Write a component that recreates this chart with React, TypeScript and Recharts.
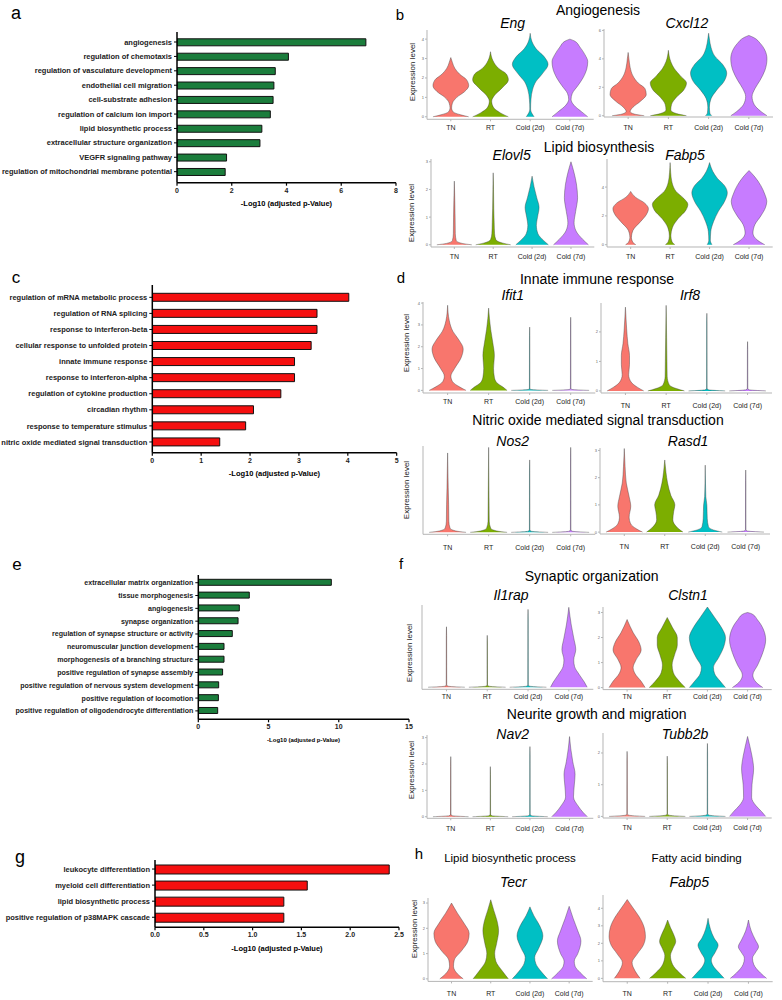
import React from 'react';
import { BarChart, Bar, XAxis, YAxis, ComposedChart, Area } from 'recharts';

const FONT = '"Liberation Sans", Arial, Helvetica, sans-serif';

// ---------- GO bar charts ----------
const termsA = ['angiogenesis', 'regulation of chemotaxis', 'regulation of vasculature development', 'endothelial cell migration', 'cell-substrate adhesion', 'regulation of calcium ion import', 'lipid biosynthetic process', 'extracellular structure organization', 'VEGFR signaling pathway', 'regulation of mitochondrial membrane potential'];
const valuesA = [6.9, 4.07, 3.59, 3.54, 3.51, 3.41, 3.1, 3.03, 1.81, 1.76];
const ticksA = [0, 2, 4, 6, 8];

const termsC = ['regulation of mRNA metabolic process', 'regulation of RNA splicing', 'response to interferon-beta', 'cellular response to unfolded protein', 'innate immune response', 'response to interferon-alpha', 'regulation of cytokine production', 'circadian rhythm', 'response to temperature stimulus', 'nitric oxide mediated signal transduction'];
const valuesC = [4.02, 3.37, 3.37, 3.25, 2.91, 2.91, 2.63, 2.07, 1.91, 1.38];
const ticksC = [0, 1, 2, 3, 4, 5];

const termsE = ['extracellular matrix organization', 'tissue morphogenesis', 'angiogenesis', 'synapse organization', 'regulation of synapse structure or activity', 'neuromuscular junction development', 'morphogenesis of a branching structure', 'positive regulation of synapse assembly', 'positive regulation of nervous system development', 'positive regulation of locomotion', 'positive regulation of oligodendrocyte differentiation'];
const valuesE = [9.47, 3.63, 2.92, 2.83, 2.42, 1.83, 1.83, 1.73, 1.45, 1.43, 1.38];
const ticksE = [0, 5, 10, 15];

const termsG = ['leukocyte differentiation', 'myeloid cell differentiation', 'lipid biosynthetic process', 'positive regulation of p38MAPK cascade'];
const valuesG = [2.4, 1.56, 1.32, 1.32];
const ticksG = [0, 0.5, 1, 1.5, 2, 2.5];

// ---------- violin profiles: [expression level, half width] ----------
const groups = ['TN', 'RT', 'Cold (2d)', 'Cold (7d)'];
const groupColors = ['#F8766D', '#7CAE00', '#00BFC4', '#C77CFF'];

const engProfiles = [
  [[0, 0.45], [0.1, 0.25], [0.25, 0.06], [0.45, 0.02], [0.7, 0.04], [1.0, 0.15], [1.3, 0.35], [1.6, 0.45], [1.9, 0.4], [2.2, 0.22], [2.5, 0.1], [2.8, 0.04], [3.05, 0]],
  [[0, 0.45], [0.2, 0.25], [0.5, 0.07], [0.8, 0.03], [1.1, 0.1], [1.5, 0.3], [1.9, 0.45], [2.2, 0.4], [2.5, 0.2], [2.9, 0.06], [3.35, 0]],
  [[0, 0.1], [0.15, 0.05], [0.4, 0.01], [0.9, 0.02], [1.4, 0.06], [1.8, 0.14], [2.2, 0.3], [2.7, 0.45], [3.1, 0.35], [3.5, 0.15], [3.9, 0.04], [4.3, 0]],
  [[0, 0.45], [0.25, 0.3], [0.6, 0.1], [0.9, 0.03], [1.2, 0.06], [1.6, 0.2], [2.0, 0.33], [2.5, 0.43], [2.85, 0.45], [3.2, 0.38], [3.6, 0.25], [3.9, 0.12], [4.0, 0]],
];
const cxcl12Profiles = [
  [[0, 0.4], [0.12, 0.15], [0.3, 0.05], [0.6, 0.12], [1.0, 0.3], [1.5, 0.45], [1.9, 0.42], [2.3, 0.25], [2.8, 0.12], [3.4, 0.05], [4.0, 0.02], [4.45, 0]],
  [[0, 0.45], [0.15, 0.2], [0.4, 0.06], [0.8, 0.08], [1.3, 0.2], [1.8, 0.38], [2.3, 0.45], [2.8, 0.3], [3.3, 0.15], [3.8, 0.06], [4.6, 0]],
  [[0, 0.08], [0.2, 0.03], [0.6, 0.02], [1.2, 0.06], [1.8, 0.2], [2.4, 0.38], [3.0, 0.45], [3.6, 0.35], [4.2, 0.15], [4.8, 0.06], [5.4, 0.02], [5.8, 0]],
  [[0, 0.45], [0.3, 0.3], [0.8, 0.13], [1.35, 0.08], [1.9, 0.15], [2.5, 0.28], [3.2, 0.4], [4.0, 0.45], [4.6, 0.4], [5.1, 0.28], [5.5, 0.12], [5.65, 0]],
];
const elovl5Profiles = [
  [[0, 0.45], [0.05, 0.2], [0.15, 0.05], [0.4, 0.025], [1.0, 0.02], [1.6, 0.012], [2.3, 0]],
  [[0, 0.45], [0.06, 0.25], [0.18, 0.07], [0.4, 0.035], [0.8, 0.025], [1.3, 0.015], [2.0, 0.008], [2.6, 0]],
  [[0, 0.42], [0.15, 0.3], [0.4, 0.15], [0.7, 0.11], [1.0, 0.14], [1.35, 0.18], [1.7, 0.12], [2.1, 0.05], [2.48, 0]],
  [[0, 0.45], [0.2, 0.3], [0.5, 0.13], [0.8, 0.08], [1.2, 0.12], [1.7, 0.17], [2.2, 0.14], [2.6, 0.08], [3.0, 0]],
];
const fabp5bProfiles = [
  [[0, 0.13], [0.15, 0.06], [0.5, 0.02], [1.0, 0.06], [1.6, 0.25], [2.1, 0.4], [2.5, 0.45], [2.9, 0.35], [3.3, 0.12], [3.7, 0]],
  [[0, 0.12], [0.2, 0.05], [0.6, 0.02], [1.2, 0.06], [1.8, 0.2], [2.4, 0.4], [2.8, 0.45], [3.2, 0.35], [3.7, 0.15], [4.3, 0.05], [5.0, 0.015], [5.7, 0]],
  [[0, 0.06], [0.3, 0.02], [0.9, 0.03], [1.6, 0.1], [2.3, 0.22], [3.0, 0.38], [3.6, 0.45], [4.1, 0.38], [4.6, 0.2], [5.1, 0.08], [5.7, 0]],
  [[0, 0.4], [0.3, 0.22], [0.8, 0.1], [1.4, 0.15], [2.0, 0.3], [2.6, 0.42], [3.0, 0.45], [3.5, 0.4], [4.1, 0.3], [4.7, 0.15], [5.15, 0]],
];
const ifit1Profiles = [
  [[0, 0.45], [0.15, 0.3], [0.4, 0.12], [0.65, 0.08], [1.0, 0.17], [1.5, 0.33], [1.9, 0.38], [2.3, 0.28], [2.7, 0.13], [3.2, 0.04], [3.9, 0]],
  [[0, 0.45], [0.15, 0.35], [0.35, 0.2], [0.6, 0.14], [1.0, 0.12], [1.6, 0.14], [2.2, 0.1], [2.8, 0.05], [3.3, 0.02], [3.77, 0]],
  [[0, 0.45], [0.04, 0.04], [0.08, 0.006], [2.5, 0.004], [2.9, 0]],
  [[0, 0.45], [0.04, 0.04], [0.08, 0.006], [3.0, 0.004], [3.35, 0]],
];
const irf8Profiles = [
  [[0, 0.45], [0.12, 0.3], [0.3, 0.14], [0.55, 0.08], [0.9, 0.1], [1.2, 0.1], [1.6, 0.06], [2.1, 0.03], [2.84, 0]],
  [[0, 0.45], [0.08, 0.25], [0.2, 0.08], [0.5, 0.025], [1.0, 0.02], [1.8, 0.012], [2.9, 0]],
  [[0, 0.45], [0.04, 0.04], [0.08, 0.006], [2.3, 0.004], [2.63, 0]],
  [[0, 0.45], [0.04, 0.04], [0.08, 0.006], [1.4, 0.004], [1.67, 0]],
];
const nos2Profiles = [
  [[0, 0.45], [0.05, 0.2], [0.15, 0.06], [0.4, 0.03], [1.0, 0.025], [1.6, 0.015], [2.85, 0]],
  [[0, 0.45], [0.05, 0.2], [0.15, 0.05], [0.4, 0.015], [1.2, 0.01], [3.05, 0]],
  [[0, 0.45], [0.04, 0.04], [0.08, 0.006], [2.2, 0.004], [2.6, 0]],
  [[0, 0.45], [0.04, 0.04], [0.08, 0.006], [2.7, 0.004], [3.05, 0]],
];
const rasd1Profiles = [
  [[0, 0.45], [0.12, 0.3], [0.3, 0.16], [0.55, 0.12], [0.95, 0.16], [1.3, 0.12], [1.8, 0.05], [2.4, 0.02], [3.07, 0]],
  [[0, 0.45], [0.15, 0.32], [0.45, 0.2], [0.75, 0.22], [1.0, 0.25], [1.35, 0.15], [1.8, 0.07], [2.2, 0.03], [2.65, 0]],
  [[0, 0.42], [0.08, 0.2], [0.2, 0.08], [0.5, 0.05], [1.0, 0.04], [1.3, 0.015], [1.8, 0.006], [2.46, 0]],
  [[0, 0.45], [0.04, 0.04], [0.08, 0.006], [1.9, 0.004], [2.28, 0]],
];
const il1rapProfiles = [
  [[0, 0.45], [0.04, 0.04], [0.08, 0.006], [2.0, 0.004], [2.33, 0]],
  [[0, 0.45], [0.04, 0.04], [0.08, 0.006], [1.7, 0.004], [2.0, 0]],
  [[0, 0.45], [0.04, 0.04], [0.08, 0.006], [2.6, 0.004], [3.0, 0]],
  [[0, 0.45], [0.2, 0.38], [0.5, 0.25], [0.8, 0.14], [1.05, 0.12], [1.45, 0.17], [1.9, 0.12], [2.4, 0.06], [3.08, 0]],
];
const clstn1Profiles = [
  [[0, 0.45], [0.25, 0.35], [0.55, 0.2], [0.8, 0.15], [1.1, 0.22], [1.5, 0.35], [1.8, 0.3], [2.2, 0.15], [2.72, 0]],
  [[0, 0.45], [0.25, 0.3], [0.6, 0.15], [0.9, 0.12], [1.3, 0.18], [1.7, 0.25], [2.0, 0.25], [2.4, 0.13], [2.8, 0]],
  [[0, 0.45], [0.25, 0.32], [0.55, 0.18], [0.8, 0.15], [1.2, 0.28], [1.6, 0.4], [2.0, 0.45], [2.4, 0.35], [2.8, 0.18], [3.22, 0]],
  [[0, 0.38], [0.2, 0.22], [0.5, 0.13], [0.9, 0.25], [1.4, 0.38], [1.9, 0.45], [2.3, 0.4], [2.7, 0.25], [2.95, 0.1], [3.0, 0]],
];
const nav2Profiles = [
  [[0, 0.45], [0.04, 0.04], [0.08, 0.006], [1.9, 0.004], [2.28, 0]],
  [[0, 0.45], [0.04, 0.04], [0.08, 0.006], [1.6, 0.004], [1.9, 0]],
  [[0, 0.45], [0.04, 0.04], [0.08, 0.006], [2.3, 0.004], [2.66, 0]],
  [[0, 0.45], [0.15, 0.35], [0.4, 0.22], [0.75, 0.1], [1.2, 0.12], [1.6, 0.14], [2.1, 0.08], [2.6, 0.03], [3.04, 0]],
];
const tubb2bProfiles = [
  [[0, 0.45], [0.04, 0.04], [0.08, 0.006], [1.75, 0.004], [2.05, 0]],
  [[0, 0.45], [0.04, 0.04], [0.08, 0.006], [1.6, 0.004], [1.9, 0]],
  [[0, 0.45], [0.04, 0.04], [0.08, 0.006], [2.0, 0.004], [2.3, 0]],
  [[0, 0.45], [0.15, 0.35], [0.35, 0.2], [0.6, 0.1], [1.0, 0.11], [1.5, 0.15], [1.9, 0.11], [2.2, 0.06], [2.52, 0]],
];
const tecrProfiles = [
  [[0, 0.3], [0.2, 0.15], [0.5, 0.05], [0.75, 0.07], [1.1, 0.25], [1.5, 0.42], [1.8, 0.45], [2.2, 0.32], [2.6, 0.15], [3.0, 0]],
  [[0, 0.45], [0.3, 0.3], [0.7, 0.13], [1.0, 0.1], [1.4, 0.15], [1.9, 0.2], [2.3, 0.16], [2.7, 0.08], [3.13, 0]],
  [[0, 0.45], [0.3, 0.28], [0.6, 0.15], [0.85, 0.12], [1.2, 0.22], [1.7, 0.33], [2.1, 0.25], [2.5, 0.1], [2.85, 0]],
  [[0, 0.45], [0.25, 0.28], [0.5, 0.15], [0.7, 0.13], [1.0, 0.22], [1.5, 0.3], [1.9, 0.22], [2.4, 0.1], [2.87, 0]],
];
const fabp5hProfiles = [
  [[0, 0.32], [0.4, 0.2], [0.9, 0.12], [1.4, 0.25], [1.9, 0.4], [2.4, 0.45], [2.9, 0.42], [3.5, 0.3], [4.0, 0.15], [4.5, 0]],
  [[0, 0.45], [0.3, 0.3], [0.8, 0.12], [1.3, 0.07], [1.7, 0.13], [2.1, 0.2], [2.5, 0.15], [2.9, 0.07], [3.33, 0]],
  [[0, 0.4], [0.3, 0.28], [0.7, 0.13], [1.05, 0.08], [1.5, 0.18], [1.9, 0.25], [2.3, 0.15], [2.8, 0.06], [3.43, 0]],
  [[0, 0.45], [0.3, 0.3], [0.8, 0.13], [1.15, 0.1], [1.5, 0.18], [1.8, 0.25], [2.2, 0.17], [2.7, 0.07], [3.33, 0]],
];

// ---------- helpers ----------
function T({ x, y, s, children, bold, italic, anchor = 'middle', color = '#000' }: any) {
  const w = 500;
  const left = anchor === 'middle' ? x - w / 2 : anchor === 'start' ? x : x - w;
  const align = anchor === 'middle' ? 'center' : anchor === 'start' ? 'left' : 'right';
  return (
    <div style={{ position: 'absolute', left, top: y - s / 2, width: w, textAlign: align as any, fontSize: s, lineHeight: `${s}px`, fontWeight: bold ? 700 : 400, fontStyle: italic ? 'italic' : 'normal', color, whiteSpace: 'nowrap', fontFamily: FONT }}>
      {children}
    </div>
  );
}

function VText({ x, y, s, children }: any) {
  return (
    <div style={{ position: 'absolute', left: x - 60, top: y - s / 2, width: 120, textAlign: 'center', fontSize: s, lineHeight: `${s}px`, transform: 'rotate(-90deg)', transformOrigin: '50% 50%', color: '#222', whiteSpace: 'nowrap', fontFamily: FONT }}>
      {children}
    </div>
  );
}

function CatTick(props: any) {
  const { x, y, payload, size } = props;
  return (
    <text x={x} y={y} dy={size * 0.35} textAnchor="end" fontSize={size} fontWeight={700} fill="#222" fontFamily={FONT}>
      {payload.value}
    </text>
  );
}

function GoBars({ top, axisX, plotBottom, right, terms, values, color, ticks, labelSize, barSize, padTop, padBottom, tickFmt }: any) {
  const data = terms.map((term: string, i: number) => ({ term, v: values[i] }));
  const xH = 14;
  const mr = 10;
  const width = right + mr;
  const height = plotBottom - top + xH;
  return (
    <div style={{ position: 'absolute', left: 0, top }}>
      <BarChart width={width} height={height} data={data} layout="vertical" margin={{ top: 0, right: mr, bottom: 0, left: 0 }}>
        <XAxis type="number" domain={[ticks[0], ticks[ticks.length - 1]]} ticks={ticks} interval={0} allowDataOverflow height={xH} tickSize={3} tickMargin={2} tickFormatter={tickFmt} axisLine={{ stroke: '#000', strokeWidth: 1.5 }} tickLine={{ stroke: '#000', strokeWidth: 1.2 }} tick={{ fontSize: 7, fontWeight: 700, fill: '#222', fontFamily: FONT }} />
        <YAxis type="category" dataKey="term" width={axisX} interval={0} tickSize={3} tickMargin={2} padding={{ top: padTop, bottom: padBottom }} axisLine={{ stroke: '#000', strokeWidth: 1.5 }} tickLine={{ stroke: '#000', strokeWidth: 1 }} tick={(p: any) => <CatTick {...p} size={labelSize} />} />
        <Bar dataKey="v" fill={color} stroke="#111" strokeWidth={1} barSize={barSize} isAnimationActive={false} />
      </BarChart>
    </div>
  );
}

function buildRows(profiles: number[][][]) {
  const rows: any[] = [];
  profiles.forEach((prof, g) => {
    prof.forEach(([lv, hw]) => {
      const row: any = { y: lv };
      profiles.forEach((_, k) => {
        row['g' + k] = k === g ? [g + 1 - hw, g + 1 + hw] : [null, null];
      });
      rows.push(row);
    });
  });
  rows.sort((a, b) => a.y - b.y);
  return rows;
}

function Violin({ x1, x2, yTop, yBottom, domain, ticks, tickLabels = true, profiles, tickDy = 9 }: any) {
  const yW = 8;
  const xH = 20;
  const left = x1 - yW;
  const mr = 2;
  const width = x2 - left + mr;
  const height = yBottom - yTop + xH;
  const rows = buildRows(profiles);
  return (
    <div style={{ position: 'absolute', left, top: yTop }}>
      <ComposedChart width={width} height={height} data={rows} layout="vertical" margin={{ top: 0, right: mr, bottom: 0, left: 0 }}>
        <XAxis type="number" domain={[0.4, 4.6]} ticks={[1, 2, 3, 4]} interval={0} allowDataOverflow height={xH} tickSize={2} tickMargin={tickDy - 4.5} tickFormatter={(v: number) => groups[v - 1]} axisLine={{ stroke: '#b5b5b5' }} tickLine={{ stroke: '#b5b5b5' }} tick={{ fontSize: 7, fill: '#222', fontFamily: FONT }} />
        <YAxis type="number" dataKey="y" reversed domain={domain} ticks={ticks} interval={0} allowDataOverflow width={yW} tickSize={2} tickMargin={1} axisLine={{ stroke: '#b5b5b5' }} tickLine={{ stroke: '#b5b5b5' }} tick={tickLabels ? { fontSize: 4, fill: '#666', fontFamily: FONT } : false} />
        {profiles.map((_: any, g: number) => (
          <Area key={g} type="monotone" dataKey={'g' + g} fill={groupColors[g]} fillOpacity={1} stroke="#3a3a3a" strokeWidth={0.4} connectNulls isAnimationActive={false} dot={false} activeDot={false} />
        ))}
      </ComposedChart>
    </div>
  );
}

const fmt1 = (v: number) => v.toFixed(1);

export default function App() {
  return (
    <div style={{ position: 'absolute', left: 0, top: 0, width: 782, height: 1000, background: '#fff', overflow: 'hidden', fontFamily: FONT }}>
      {/* panel letters */}
      <T x={16} y={13} s={18}>a</T>
      <T x={400} y={14} s={15}>b</T>
      <T x={16} y={277} s={17}>c</T>
      <T x={401} y={277} s={15}>d</T>
      <T x={17} y={564} s={17}>e</T>
      <T x={401} y={563} s={15}>f</T>
      <T x={20} y={857} s={18}>g</T>
      <T x={419} y={853} s={15}>h</T>

      {/* left column bar charts */}
      <GoBars top={32.3} axisX={177} plotBottom={183} right={396} terms={termsA} values={valuesA} color="#1b7d3c" ticks={ticksA} labelSize={7.5} barSize={7} padTop={2.8} padBottom={3.8} />
      <T x={286.5} y={204} s={7.5} bold>-Log10 (adjusted p-Value)</T>

      <GoBars top={285} axisX={152.3} plotBottom={452.7} right={396.7} terms={termsC} values={valuesC} color="#f50f0f" ticks={ticksC} labelSize={7.5} barSize={8} padTop={4.3} padBottom={2.7} />
      <T x={274.5} y={473.3} s={7.5} bold>-Log10 (adjusted p-Value)</T>

      <GoBars top={575} axisX={198.3} plotBottom={719.3} right={409} terms={termsE} values={valuesE} color="#1b7d3c" ticks={ticksE} labelSize={7.1} barSize={6} padTop={1.3} padBottom={2} />
      <T x={303.6} y={740.3} s={6} bold>-Log10 (adjusted p-Value)</T>

      <GoBars top={860} axisX={155} plotBottom={927.3} right={399} terms={termsG} values={valuesG} color="#f50f0f" ticks={ticksG} labelSize={7.5} barSize={9} padTop={1} padBottom={2} tickFmt={fmt1} />
      <T x={277} y={949} s={7.5} bold>-Log10 (adjusted p-Value)</T>

      {/* b */}
      <T x={598} y={10} s={14}>Angiogenesis</T>
      <T x={512.7} y={23} s={14} italic>Eng</T>
      <T x={687} y={23} s={14} italic>Cxcl12</T>
      <VText x={413} y={72} s={8}>Expression level</VText>
      <Violin x1={427.3} x2={594} yTop={30} yBottom={119.3} domain={[-0.13, 4.47]} ticks={[0, 1, 2, 3, 4]} profiles={engProfiles} tickDy={8.7} />
      <Violin x1={604} x2={773} yTop={29.3} yBottom={117.3} domain={[-0.09, 6.1]} ticks={[0, 2, 4, 6]} profiles={cxcl12Profiles} tickDy={10.7} />

      <T x={599} y={146.5} s={14}>Lipid biosynthesis</T>
      <T x={511.7} y={155} s={14} italic>Elovl5</T>
      <T x={685} y={155} s={14} italic>Fabp5</T>
      <VText x={412} y={213} s={8}>Expression level</VText>
      <Violin x1={430.7} x2={594} yTop={159.3} yBottom={247.3} domain={[-0.08, 3.1]} ticks={[0, 1, 2, 3]} profiles={elovl5Profiles} tickDy={9.4} />
      <Violin x1={607.3} x2={773} yTop={159.3} yBottom={247.3} domain={[-0.16, 5.95]} ticks={[0, 2, 4]} profiles={fabp5bProfiles} tickDy={9.4} />

      {/* d */}
      <T x={597} y={278.5} s={14}>Innate immune response</T>
      <T x={512.7} y={295} s={14} italic>Ifit1</T>
      <T x={690} y={295} s={14} italic>Irf8</T>
      <VText x={407} y={343} s={8}>Expression level</VText>
      <Violin x1={422.7} x2={595} yTop={301.7} yBottom={392.7} domain={[-0.12, 4.05]} ticks={[0, 1, 2, 3, 4]} profiles={ifit1Profiles} tickDy={9} />
      <Violin x1={601} x2={772} yTop={302.7} yBottom={392.7} domain={[-0.07, 2.98]} ticks={[0, 1, 2]} profiles={irf8Profiles} tickDy={13} />

      <T x={598} y={419.5} s={14}>Nitric oxide mediated signal transduction</T>
      <T x={512.7} y={440.5} s={14} italic>Nos2</T>
      <T x={688} y={440.5} s={14} italic>Rasd1</T>
      <VText x={407} y={490} s={8}>Expression level</VText>
      <Violin x1={422.7} x2={595} yTop={446} yBottom={534.3} domain={[-0.07, 3.1]} ticks={[0, 1, 2, 3]} tickLabels={false} profiles={nos2Profiles} tickDy={13} />
      <Violin x1={600} x2={770} yTop={448.3} yBottom={534.3} domain={[-0.07, 3.09]} ticks={[0, 1, 2, 3]} profiles={rasd1Profiles} tickDy={13} />

      {/* f */}
      <T x={591.7} y={575.8} s={14}>Synaptic organization</T>
      <T x={511} y={595.3} s={14} italic>Il1rap</T>
      <T x={688} y={595.3} s={14} italic>Clstn1</T>
      <VText x={410} y={653} s={8}>Expression level</VText>
      <Violin x1={421.7} x2={593} yTop={605} yBottom={689.3} domain={[-0.08, 3.17]} ticks={[0, 1, 2, 3]} tickLabels={false} profiles={il1rapProfiles} tickDy={7.4} />
      <Violin x1={603.3} x2={772} yTop={606.7} yBottom={689.3} domain={[-0.08, 3.22]} ticks={[0, 1, 2, 3]} profiles={clstn1Profiles} tickDy={7.4} />

      <T x={596.7} y={714} s={14}>Neurite growth and migration</T>
      <T x={512.7} y={733.5} s={14} italic>Nav2</T>
      <T x={685} y={733.5} s={14} italic>Tubb2b</T>
      <VText x={412} y={770} s={8}>Expression level</VText>
      <Violin x1={426.7} x2={593} yTop={735} yBottom={818.3} domain={[-0.06, 3.1]} ticks={[0, 1, 2, 3]} profiles={nav2Profiles} tickDy={10} />
      <Violin x1={603.3} x2={772} yTop={733.3} yBottom={818.3} domain={[-0.05, 2.63]} ticks={[0, 1, 2]} profiles={tubb2bProfiles} tickDy={10} />

      {/* h */}
      <T x={510} y={858.3} s={11.5}>Lipid biosynthetic process</T>
      <T x={696.7} y={858.3} s={11.5}>Fatty acid binding</T>
      <T x={513.3} y={881.7} s={14} italic>Tecr</T>
      <T x={689.3} y={881.7} s={14} italic>Fabp5</T>
      <VText x={415} y={929} s={8}>Expression level</VText>
      <Violin x1={428.3} x2={593} yTop={898.3} yBottom={981.7} domain={[-0.1, 3.2]} ticks={[0, 1, 2, 3]} profiles={tecrProfiles} tickDy={12.3} />
      <Violin x1={603.3} x2={773} yTop={895} yBottom={981.7} domain={[-0.19, 4.76]} ticks={[0, 1, 2, 3, 4]} profiles={fabp5hProfiles} tickDy={12.3} />
    </div>
  );
}
